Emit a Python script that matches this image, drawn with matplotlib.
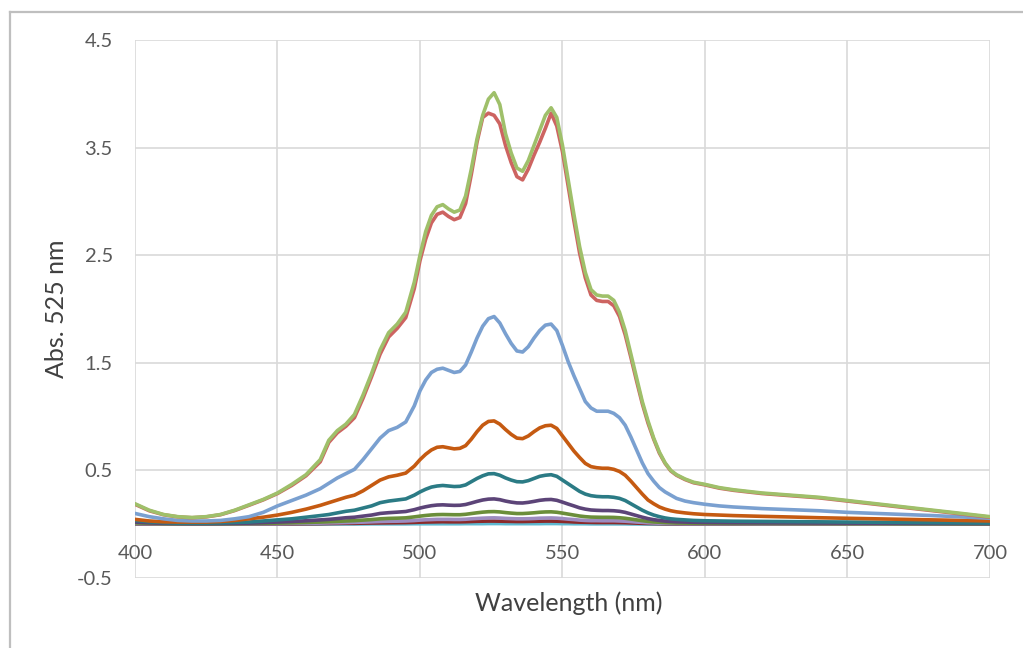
import matplotlib
matplotlib.use("Agg")
import matplotlib.pyplot as plt
from matplotlib.lines import Line2D

plt.rcParams['font.family'] = ['Lato', 'DejaVu Sans']

# wavelength grid (nm), rows of ten to line up with the series below
wavelength = [400, 405, 410, 415, 420, 425, 430, 435, 440, 445,
              450, 455, 460, 465, 468, 471, 474, 477, 480, 483,
              486, 489, 492, 495, 498, 500, 502, 504, 506, 508,
              510, 512, 514, 516, 518, 520, 522, 524, 526, 528,
              530, 532, 534, 536, 538, 540, 542, 544, 546, 548,
              550, 552, 554, 556, 558, 560, 562, 564, 566, 568,
              570, 572, 574, 576, 578, 580, 582, 584, 586, 588,
              590, 593, 596, 600, 605, 610, 620, 630, 640, 650,
              660, 670, 680, 690, 700]

green = [0.19, 0.13, 0.09, 0.07, 0.062, 0.07, 0.09, 0.13, 0.18, 0.23,
         0.29, 0.37, 0.46, 0.60, 0.78, 0.87, 0.93, 1.02, 1.20, 1.40,
         1.62, 1.78, 1.86, 1.97, 2.25, 2.50, 2.72, 2.87, 2.95, 2.97,
         2.93, 2.90, 2.92, 3.05, 3.30, 3.58, 3.80, 3.95, 4.01, 3.90,
         3.63, 3.45, 3.31, 3.28, 3.38, 3.52, 3.66, 3.80, 3.87, 3.78,
         3.52, 3.20, 2.88, 2.58, 2.34, 2.18, 2.13, 2.12, 2.12, 2.08,
         1.97, 1.80, 1.58, 1.36, 1.14, 0.96, 0.80, 0.67, 0.57, 0.50,
         0.46, 0.42, 0.39, 0.37, 0.34, 0.32, 0.29, 0.27, 0.25, 0.22,
         0.19, 0.16, 0.13, 0.10, 0.07]
red = [0.185, 0.125, 0.088, 0.068, 0.06, 0.068, 0.088, 0.127, 0.176, 0.226,
       0.285, 0.36, 0.45, 0.58, 0.76, 0.85, 0.91, 0.99, 1.17, 1.37,
       1.58, 1.74, 1.82, 1.92, 2.19, 2.45, 2.65, 2.80, 2.88, 2.90,
       2.86, 2.83, 2.85, 2.98, 3.25, 3.55, 3.78, 3.82, 3.80, 3.72,
       3.52, 3.36, 3.23, 3.20, 3.30, 3.43, 3.55, 3.68, 3.82, 3.70,
       3.46, 3.14, 2.82, 2.52, 2.29, 2.13, 2.08, 2.07, 2.07, 2.03,
       1.93, 1.76, 1.55, 1.33, 1.12, 0.94, 0.79, 0.66, 0.565, 0.495,
       0.455, 0.415, 0.385, 0.365, 0.335, 0.315, 0.285, 0.265, 0.245, 0.215,
       0.185, 0.155, 0.125, 0.095, 0.065]
blue = [0.10, 0.07, 0.05, 0.035, 0.03, 0.03, 0.035, 0.05, 0.07, 0.11,
        0.17, 0.22, 0.27, 0.33, 0.38, 0.43, 0.47, 0.51, 0.60, 0.70,
        0.80, 0.87, 0.90, 0.95, 1.10, 1.24, 1.34, 1.41, 1.44, 1.45,
        1.43, 1.41, 1.42, 1.48, 1.60, 1.73, 1.84, 1.91, 1.93, 1.87,
        1.77, 1.68, 1.61, 1.60, 1.65, 1.73, 1.80, 1.85, 1.86, 1.80,
        1.66, 1.51, 1.38, 1.26, 1.14, 1.08, 1.05, 1.05, 1.05, 1.03,
        0.99, 0.92, 0.81, 0.69, 0.57, 0.47, 0.40, 0.34, 0.30, 0.27,
        0.24, 0.215, 0.20, 0.185, 0.17, 0.16, 0.145, 0.135, 0.125, 0.11,
        0.10, 0.09, 0.08, 0.068, 0.055]
orange = [0.045, 0.03, 0.022, 0.02, 0.02, 0.02, 0.025, 0.035, 0.05, 0.065,
          0.085, 0.11, 0.14, 0.175, 0.20, 0.225, 0.25, 0.27, 0.31, 0.36,
          0.41, 0.44, 0.455, 0.475, 0.54, 0.60, 0.65, 0.69, 0.715, 0.72,
          0.71, 0.70, 0.705, 0.73, 0.79, 0.86, 0.92, 0.955, 0.96, 0.93,
          0.88, 0.835, 0.80, 0.795, 0.82, 0.86, 0.895, 0.915, 0.92, 0.89,
          0.82, 0.75, 0.68, 0.62, 0.565, 0.535, 0.525, 0.52, 0.52, 0.51,
          0.49, 0.455, 0.40, 0.34, 0.28, 0.225, 0.19, 0.16, 0.14, 0.125,
          0.115, 0.105, 0.097, 0.09, 0.085, 0.08, 0.073, 0.067, 0.06, 0.055,
          0.05, 0.045, 0.04, 0.035, 0.03]
teal = [0.035, 0.022, 0.014, 0.01, 0.01, 0.01, 0.012, 0.016, 0.02, 0.03,
        0.04, 0.05, 0.065, 0.08, 0.09, 0.105, 0.12, 0.13, 0.15, 0.17,
        0.20, 0.215, 0.225, 0.235, 0.27, 0.30, 0.325, 0.345, 0.355, 0.36,
        0.355, 0.35, 0.352, 0.365, 0.395, 0.425, 0.45, 0.468, 0.47, 0.455,
        0.43, 0.41, 0.395, 0.393, 0.405, 0.425, 0.445, 0.455, 0.46, 0.445,
        0.41, 0.375, 0.34, 0.305, 0.28, 0.265, 0.258, 0.255, 0.255, 0.25,
        0.24, 0.22, 0.19, 0.16, 0.13, 0.105, 0.085, 0.07, 0.058, 0.05,
        0.045, 0.04, 0.035, 0.032, 0.03, 0.028, 0.026, 0.024, 0.022, 0.02,
        0.018, 0.016, 0.014, 0.012, 0.01]
purple = [0.02, 0.013, 0.008, 0.006, 0.005, 0.005, 0.006, 0.008, 0.01, 0.015,
          0.02, 0.025, 0.032, 0.04, 0.045, 0.052, 0.06, 0.065, 0.075, 0.085,
          0.10, 0.107, 0.112, 0.118, 0.135, 0.15, 0.162, 0.172, 0.178, 0.18,
          0.177, 0.175, 0.176, 0.183, 0.197, 0.212, 0.225, 0.233, 0.235, 0.228,
          0.215, 0.205, 0.198, 0.197, 0.203, 0.212, 0.222, 0.228, 0.23, 0.222,
          0.205, 0.187, 0.17, 0.152, 0.14, 0.132, 0.129, 0.127, 0.127, 0.125,
          0.12, 0.11, 0.095, 0.08, 0.065, 0.052, 0.042, 0.035, 0.029, 0.025,
          0.022, 0.02, 0.018, 0.016, 0.015, 0.014, 0.013, 0.012, 0.011, 0.01,
          0.009, 0.008, 0.007, 0.006, 0.005]
olive = [0.012, 0.008, 0.005, 0.004, 0.004, 0.004, 0.004, 0.005, 0.006, 0.008,
         0.01, 0.013, 0.016, 0.02, 0.023, 0.026, 0.03, 0.033, 0.038, 0.043,
         0.05, 0.054, 0.056, 0.059, 0.068, 0.075, 0.081, 0.086, 0.089, 0.09,
         0.089, 0.088, 0.088, 0.092, 0.099, 0.106, 0.112, 0.116, 0.117, 0.114,
         0.108, 0.103, 0.099, 0.099, 0.102, 0.106, 0.111, 0.114, 0.115, 0.111,
         0.103, 0.094, 0.085, 0.076, 0.07, 0.066, 0.065, 0.064, 0.064, 0.063,
         0.06, 0.055, 0.048, 0.04, 0.033, 0.026, 0.021, 0.018, 0.015, 0.013,
         0.011, 0.01, 0.009, 0.008, 0.008, 0.007, 0.007, 0.006, 0.006, 0.005,
         0.005, 0.004, 0.004, 0.003, 0.003]
lavender = [0.008, 0.005, 0.003, 0.002, 0.002, 0.002, 0.002, 0.003, 0.003, 0.004,
            0.005, 0.007, 0.008, 0.01, 0.012, 0.013, 0.015, 0.017, 0.019, 0.022,
            0.025, 0.027, 0.028, 0.03, 0.034, 0.038, 0.041, 0.043, 0.045, 0.045,
            0.045, 0.044, 0.044, 0.046, 0.05, 0.053, 0.056, 0.058, 0.059, 0.057,
            0.054, 0.052, 0.05, 0.05, 0.051, 0.053, 0.056, 0.057, 0.058, 0.056,
            0.052, 0.047, 0.043, 0.038, 0.035, 0.033, 0.033, 0.032, 0.032, 0.032,
            0.03, 0.028, 0.024, 0.02, 0.017, 0.013, 0.011, 0.009, 0.008, 0.007,
            0.006, 0.005, 0.005, 0.004, 0.004, 0.004, 0.003, 0.003, 0.003, 0.003,
            0.002, 0.002, 0.002, 0.002, 0.002]
darkred = [0.004, 0.003, 0.002, 0.001, 0.001, 0.001, 0.001, 0.002, 0.002, 0.002,
           0.003, 0.003, 0.004, 0.005, 0.006, 0.007, 0.008, 0.008, 0.01, 0.011,
           0.012, 0.013, 0.014, 0.015, 0.017, 0.019, 0.02, 0.021, 0.022, 0.023,
           0.022, 0.022, 0.022, 0.023, 0.025, 0.027, 0.028, 0.029, 0.029, 0.028,
           0.027, 0.026, 0.025, 0.025, 0.026, 0.027, 0.028, 0.029, 0.029, 0.028,
           0.026, 0.024, 0.021, 0.019, 0.018, 0.017, 0.016, 0.016, 0.016, 0.016,
           0.015, 0.014, 0.012, 0.01, 0.008, 0.007, 0.006, 0.005, 0.004, 0.004,
           0.003, 0.003, 0.003, 0.002, 0.002, 0.002, 0.002, 0.002, 0.001, 0.001,
           0.001, 0.001, 0.001, 0.001, 0.001]
cyan = [0.002, 0.001, 0.001, 0.0, 0.0, 0.0, 0.0, 0.0, 0.0, 0.001,
        0.001, 0.001, 0.001, 0.001, 0.002, 0.002, 0.002, 0.002, 0.002, 0.003,
        0.003, 0.003, 0.003, 0.003, 0.004, 0.004, 0.004, 0.004, 0.004, 0.004,
        0.004, 0.004, 0.004, 0.005, 0.005, 0.005, 0.005, 0.006, 0.006, 0.006,
        0.005, 0.005, 0.005, 0.005, 0.005, 0.005, 0.005, 0.006, 0.006, 0.006,
        0.005, 0.005, 0.004, 0.004, 0.004, 0.003, 0.003, 0.003, 0.003, 0.003,
        0.003, 0.003, 0.002, 0.002, 0.002, 0.001, 0.001, 0.001, 0.001, 0.0,
        0.0, 0.0, 0.0, 0.0, 0.0, 0.0, 0.0, 0.0, 0.0, 0.0,
        0.0, 0.0, 0.0, 0.0, 0.0]

series = [(cyan, '#5fb8d0'), (darkred, '#8b2a2a'), (lavender, '#9d8cc0'), (olive, '#6b8e3a'),
          (purple, '#5c4478'), (teal, '#2b7b85'), (orange, '#c55a11'), (blue, '#7aa0d0'),
          (red, '#cd6461'), (green, '#9fc06a')]

x_ticks = [400, 450, 500, 550, 600, 650, 700]
y_ticks = [-0.5, 0.5, 1.5, 2.5, 3.5, 4.5]

fig = plt.figure(figsize=(10.23, 6.48), dpi=100)
ax = fig.add_axes([135/1023, 1 - 578/648, (990-135)/1023, (578-40)/648])

for vals, col in series:
    ax.plot(wavelength, vals, color=col, lw=2.6, solid_joinstyle='round', solid_capstyle='round', zorder=3)

ax.set_xlim(400, 700)
ax.set_ylim(-0.5, 4.5)
ax.set_xticks(x_ticks)
ax.set_yticks(y_ticks)
ax.set_yticklabels(['-0.5', '0.5', '1.5', '2.5', '3.5', '4.5'])
ax.grid(True, color='#d9d9d9', lw=1.2, zorder=0)
ax.set_axisbelow(True)
for s in ax.spines.values():
    s.set_visible(False)
ax.spines['bottom'].set_position(('data', 0))
ax.tick_params(axis='both', length=0, labelsize=14.5, colors='#595959')
ax.tick_params(axis='x', pad=15)
ax.tick_params(axis='y', pad=16)

ax.set_xlabel('Wavelength (nm)', fontsize=18, color='#404040')
ax.set_ylabel('Abs. 525 nm', fontsize=18, color='#404040')
ax.xaxis.set_label_coords(0.507, -0.025)
ax.yaxis.set_label_coords(-0.078, 0.5)

# outer chart border (top and left edges visible)
fig.add_artist(Line2D([10/1023, 1.0], [1 - 12/648, 1 - 12/648], color='#bfbfbf', lw=1.6, transform=fig.transFigure))
fig.add_artist(Line2D([10/1023, 10/1023], [0.0, 1 - 12/648], color='#bfbfbf', lw=1.6, transform=fig.transFigure))

fig.savefig('out.png', dpi=100)
